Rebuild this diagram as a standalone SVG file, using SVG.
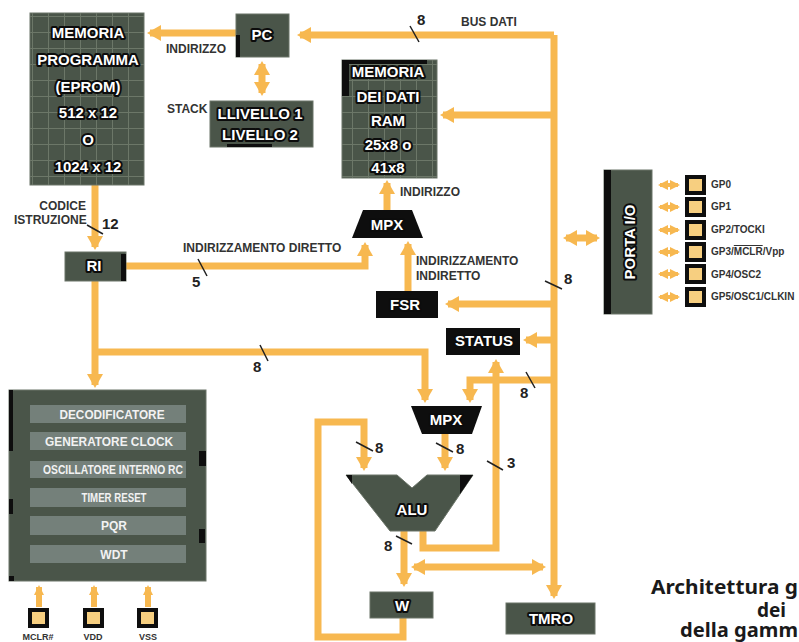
<svg xmlns="http://www.w3.org/2000/svg" width="799" height="642" viewBox="0 0 799 642">
<defs>
<pattern id="grid" width="16" height="16" patternUnits="userSpaceOnUse">
<rect width="16" height="16" fill="#4a5549"/>
<path d="M0 .5H16M.5 0V16" stroke="#6c7768" stroke-width="1"/>
</pattern>
<marker id="a" viewBox="0 0 14 16" refX="11" refY="8" markerWidth="14" markerHeight="16" markerUnits="userSpaceOnUse" orient="auto-start-reverse"><path d="M0 0L14 8L0 16Z" fill="#f7b850"/></marker>
<marker id="s" viewBox="0 0 10 10" refX="8" refY="5" markerWidth="10" markerHeight="10" markerUnits="userSpaceOnUse" orient="auto-start-reverse"><path d="M0 0L10 5L0 10Z" fill="#f7b850"/></marker>
</defs>
<style>
text{font-family:"Liberation Sans",Arial,sans-serif}
.box{fill:#4a5549;stroke:#6b7468;stroke-width:1}
.blk{fill:#0e0e0e}
.grid{fill:url(#grid);stroke:#6b7468}
.t{font-weight:700;font-size:15px;fill:#fff;stroke:#0c0c0c;stroke-width:4px;paint-order:stroke;text-anchor:middle;stroke-linejoin:round}
.b{font-weight:700;font-size:12px;fill:#f2f2f2;text-anchor:middle}
.bar{fill:#74807a}
.l{font-weight:700;font-size:12px;fill:#333}
.n{font-weight:700;font-size:15px;fill:#222}
.p{font-weight:700;font-size:10px;fill:#333}
.w{fill:none;stroke:#f7b850;stroke-width:7}
.w2{fill:none;stroke:#f7b850;stroke-width:4}
.k{stroke:#222;stroke-width:1.5;fill:none}
.pin{fill:#f7cf80;stroke:#0e0e0e;stroke-width:4}
.cap{font-family:"Noto Sans",sans-serif;font-weight:700;font-size:19px;fill:#1a1a1a}
</style>
<rect width="799" height="642" fill="#fff"/>
<g id="connectors">
<path class="w" d="M236 33H150" marker-end="url(#a)"/>
<path class="w" d="M554 35H300" marker-end="url(#a)"/>
<path class="w" d="M554 35V596" marker-end="url(#a)"/>
<path class="w" d="M262 64V93" marker-start="url(#a)" marker-end="url(#a)"/>
<path class="w" d="M554 115H443" marker-end="url(#a)"/>
<path class="w" d="M566 238H597" marker-start="url(#a)" marker-end="url(#a)"/>
<path class="w" d="M554 304H448" marker-end="url(#a)"/>
<path class="w" d="M554 340H526" marker-end="url(#a)"/>
<path class="w" d="M423 531V548H496V362" marker-end="url(#a)"/>
<path class="w" d="M554 380H470V400" marker-end="url(#a)"/>
<path class="w" d="M95 352H425V400" marker-end="url(#a)"/>
<path class="w" d="M95 281V385" marker-end="url(#a)"/>
<path class="w" d="M95 185V247" marker-end="url(#a)"/>
<path class="w" d="M126 266H365V245" marker-end="url(#a)"/>
<path class="w" d="M387 210V183" marker-end="url(#a)"/>
<path class="w" d="M408 291V244" marker-end="url(#a)"/>
<path class="w" d="M445 434V468" marker-end="url(#a)"/>
<path class="w" d="M403 618V637H318V422H364V468" marker-end="url(#a)"/>
<path class="w" d="M404 531V584" marker-end="url(#a)"/>
<path class="w" d="M414 567H543" marker-start="url(#a)" marker-end="url(#a)"/>
<path class="w2" d="M660 185H678" marker-start="url(#s)" marker-end="url(#s)"/>
<path class="w2" d="M660 207H678" marker-start="url(#s)" marker-end="url(#s)"/>
<path class="w2" d="M660 230H678" marker-start="url(#s)" marker-end="url(#s)"/>
<path class="w2" d="M660 252H678" marker-start="url(#s)" marker-end="url(#s)"/>
<path class="w2" d="M660 274H678" marker-start="url(#s)" marker-end="url(#s)"/>
<path class="w2" d="M660 297H678" marker-start="url(#s)" marker-end="url(#s)"/>
<path class="w" d="M39 607V587" style="stroke-width:6" marker-end="url(#s)"/>
<path class="w" d="M94 607V587" style="stroke-width:6" marker-end="url(#s)"/>
<path class="w" d="M148 607V587" style="stroke-width:6" marker-end="url(#s)"/>
<path class="k" d="M87 225L103 234M198 259L207 276M410 26L419 42M545 281L562 289M260 345L268 361M526 372L535 388M356 442L373 451M436 443L453 452M487 461L503 470M396 536L412 544"/>
</g>
<g id="prog"><rect class="grid" x="30" y="13" width="114" height="172"/>
<text class="t" x="88" y="38">MEMORIA</text><text class="t" x="88" y="65">PROGRAMMA</text><text class="t" x="88" y="92">(EPROM)</text><text class="t" x="88" y="118">512 x 12</text><text class="t" x="88" y="145">O</text><text class="t" x="88" y="172">1024 x 12</text></g>
<g id="pc"><rect class="box" x="236" y="14" width="53" height="43"/><rect class="blk" x="236" y="35" width="4" height="22"/><text class="t" x="262" y="40">PC</text></g>
<g id="stack"><rect class="box" x="210" y="101" width="103" height="46"/><rect class="blk" x="227" y="144" width="45" height="3"/><text class="t" x="260" y="119">LLIVELLO 1</text><text class="t" x="260" y="140">LIVELLO 2</text></g>
<g id="ram"><rect class="grid" x="342" y="60" width="95" height="118"/><rect class="blk" x="342" y="60" width="7" height="36"/><rect class="blk" x="349" y="60" width="78" height="4"/>
<text class="t" x="388" y="77">MEMORIA</text><text class="t" x="388" y="102">DEI DATI</text><text class="t" x="388" y="126">RAM</text><text class="t" x="388" y="150">25x8 o</text><text class="t" x="388" y="173">41x8</text></g>
<g id="ri"><rect class="box" x="65" y="252" width="61" height="29"/><rect class="blk" x="121" y="254" width="5" height="27"/><text class="t" x="94" y="271">RI</text></g>
<g id="mpx1"><polygon class="blk" points="363,210 412,210 423,238 352,238"/><text class="t" x="387" y="230">MPX</text></g>
<g id="fsr"><rect class="blk" x="376" y="291" width="62" height="27"/><text class="t" x="405" y="310">FSR</text></g>
<g id="status"><rect class="blk" x="446" y="328" width="74" height="27"/><text class="t" x="484" y="346">STATUS</text></g>
<g id="mpx2"><polygon class="blk" points="411,406 482,406 472,434 422,434"/><text class="t" x="446" y="425">MPX</text></g>
<g id="alu"><polygon points="346,475 397,475 412,488 427,475 473,475 435,531 390,531" fill="#4a5549" stroke="#6b7468"/><polygon class="blk" points="346,475 352,475 352,484"/><polygon class="blk" points="460,475 473,475 460,494"/><text class="t" x="412" y="515">ALU</text></g>
<g id="w"><rect class="box" x="370" y="592" width="63" height="26"/><text class="t" x="402" y="611">W</text></g>
<g id="tmr0"><rect class="box" x="506" y="603" width="89" height="31"/><text class="t" x="551" y="624">TMRO</text></g>
<g id="control"><rect class="box" x="9" y="390" width="197" height="191"/>
<rect class="blk" x="9" y="390" width="4" height="61"/><rect class="blk" x="9" y="499" width="4" height="15"/><rect class="blk" x="199" y="451" width="7" height="15"/><rect class="blk" x="199" y="529" width="6" height="14"/><rect class="blk" x="9" y="576" width="5" height="5"/>
<rect class="bar" x="30" y="405" width="156" height="18"/><rect class="bar" x="30" y="432" width="156" height="18"/><rect class="bar" x="30" y="461" width="156" height="17"/><rect class="bar" x="30" y="488" width="156" height="19"/><rect class="bar" x="30" y="516" width="156" height="19"/><rect class="bar" x="30" y="545" width="156" height="18"/>
<text class="b" x="112" y="419" textLength="105" lengthAdjust="spacingAndGlyphs">DECODIFICATORE</text><text class="b" x="109" y="446" textLength="128" lengthAdjust="spacingAndGlyphs">GENERATORE CLOCK</text><text class="b" x="113" y="474" textLength="140" lengthAdjust="spacingAndGlyphs">OSCILLATORE INTERNO RC</text><text class="b" x="114" y="502" textLength="65" lengthAdjust="spacingAndGlyphs">TIMER RESET</text><text class="b" x="114" y="530">PQR</text><text class="b" x="114" y="559">WDT</text></g>
<g id="porta"><rect class="box" x="604" y="170" width="48" height="144"/><rect class="blk" x="604" y="170" width="7" height="144"/><text class="t" transform="translate(635 242) rotate(-90)">PORTA I/O</text></g>
<g id="pins"><rect class="pin" x="687" y="177" width="17" height="16"/><rect class="pin" x="687" y="199" width="17" height="16"/><rect class="pin" x="687" y="222" width="17" height="16"/><rect class="pin" x="687" y="244" width="17" height="16"/><rect class="pin" x="687" y="266" width="17" height="16"/><rect class="pin" x="687" y="289" width="17" height="16"/>
<text class="p" x="711" y="188">GP0</text><text class="p" x="711" y="210">GP1</text><text class="p" x="711" y="233">GP2/TOCKI</text><text class="p" x="711" y="255">GP3/<tspan text-decoration="overline">MCLR</tspan>/Vpp</text><text class="p" x="711" y="278">GP4/OSC2</text><text class="p" x="711" y="300">GP5/OSC1/CLKIN</text></g>
<g id="powerpins"><rect class="pin" x="30" y="610" width="17" height="16"/><rect class="pin" x="85" y="610" width="17" height="16"/><rect class="pin" x="139" y="610" width="17" height="16"/>
<text class="p" x="38" y="640" text-anchor="middle" style="font-size:9px">MCLR#</text><text class="p" x="93" y="640" text-anchor="middle" style="font-size:9px">VDD</text><text class="p" x="148" y="640" text-anchor="middle" style="font-size:9px">VSS</text></g>
<g id="labels">
<text class="l" x="166" y="53">INDIRIZZO</text><text class="l" x="167" y="113">STACK</text><text class="l" x="86" y="210" text-anchor="end">CODICE</text><text class="l" x="14" y="224">ISTRUZIONE</text>
<text class="l" x="183" y="252">INDIRIZZAMENTO DIRETTO</text><text class="l" x="400" y="196">INDIRIZZO</text><text class="l" x="416" y="265">INDIRIZZAMENTO</text><text class="l" x="416" y="280">INDIRETTO</text><text class="l" x="461" y="26">BUS DATI</text>
<text class="n" x="102" y="229">12</text><text class="n" x="192" y="287">5</text><text class="n" x="417" y="25">8</text><text class="n" x="564" y="284">8</text><text class="n" x="253" y="372">8</text><text class="n" x="520" y="398">8</text><text class="n" x="375" y="453">8</text><text class="n" x="456" y="454">8</text><text class="n" x="507" y="468">3</text><text class="n" x="384" y="551">8</text>
</g>
<g id="caption"><text class="cap" x="651" y="594" textLength="147" lengthAdjust="spacingAndGlyphs">Architettura g</text><text class="cap" x="757" y="617">dei</text><text class="cap" x="680" y="637" textLength="118" lengthAdjust="spacingAndGlyphs">della gamm</text></g>
</svg>
